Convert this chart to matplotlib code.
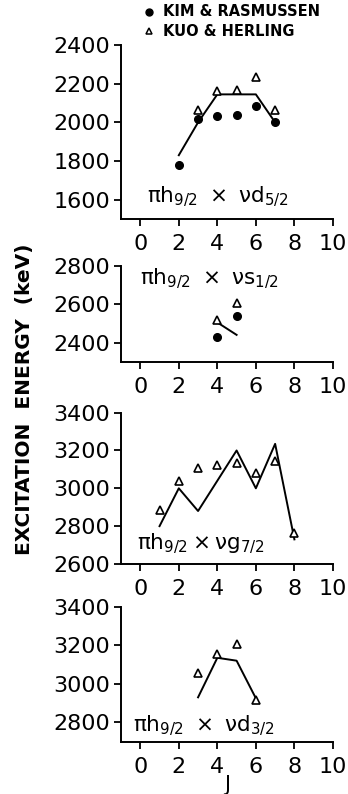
import matplotlib
matplotlib.use("Agg")
import matplotlib.pyplot as plt
from matplotlib.lines import Line2D

plt.rcParams['font.family'] = ['DejaVu Sans']
plt.rcParams['mathtext.fontset'] = 'dejavusans'

# Panel 1: pi h9/2 x nu d5/2
d52_kim_J = [2, 3, 4, 5, 6, 7]
d52_kim_E = [1780, 2020, 2035, 2040, 2085, 2000]
d52_kuo_J = [3, 4, 5, 6, 7]
d52_kuo_E = [2065, 2165, 2170, 2235, 2065]
d52_calc_J = [2, 3, 4, 5, 6, 7]
d52_calc_E = [1830, 2000, 2145, 2145, 2145, 2000]

# Panel 2: pi h9/2 x nu s1/2
s12_kim_J = [4, 5]
s12_kim_E = [2430, 2540]
s12_kuo_J = [4, 5]
s12_kuo_E = [2520, 2605]
s12_calc_J = [4, 5]
s12_calc_E = [2505, 2440]

# Panel 3: pi h9/2 x nu g7/2
g72_kuo_J = [1, 2, 3, 4, 5, 6, 7, 8]
g72_kuo_E = [2885, 3040, 3110, 3125, 3135, 3080, 3145, 2765]
g72_calc_J = [1, 2, 3, 4, 5, 6, 7, 8]
g72_calc_E = [2800, 3000, 2880, 3040, 3200, 3000, 3235, 2730]

# Panel 4: pi h9/2 x nu d3/2
d32_kuo_J = [3, 4, 5, 6]
d32_kuo_E = [3055, 3155, 3205, 2915]
d32_calc_J = [3, 4, 5, 6]
d32_calc_E = [2930, 3135, 3120, 2925]

x_ticks = [0, 2, 4, 6, 8, 10]

fig = plt.figure(figsize=(3.48, 7.94), dpi=100)

left, width = 0.3477, 0.609
panels = [
    dict(rect=[left, 0.7242, width, 0.2190], ylim=(1500, 2400), yticks=[1600, 1800, 2000, 2200, 2400],
         kim=(d52_kim_J, d52_kim_E), kuo=(d52_kuo_J, d52_kuo_E), calc=(d52_calc_J, d52_calc_E),
         label=r'$\mathrm{\pi h_{9/2}\ \times\ \nu d_{5/2}}$', lab_xy=(0.125, 0.125)),
    dict(rect=[left, 0.5445, width, 0.1205], ylim=(2300, 2800), yticks=[2400, 2600, 2800],
         kim=(s12_kim_J, s12_kim_E), kuo=(s12_kuo_J, s12_kuo_E), calc=(s12_calc_J, s12_calc_E),
         label=r'$\mathrm{\pi h_{9/2}\ \times\ \nu s_{1/2}}$', lab_xy=(0.09, 0.86)),
    dict(rect=[left, 0.2897, width, 0.1906], ylim=(2600, 3400), yticks=[2600, 2800, 3000, 3200, 3400],
         kim=None, kuo=(g72_kuo_J, g72_kuo_E), calc=(g72_calc_J, g72_calc_E),
         label=r'$\mathrm{\pi h_{9/2} \times \nu g_{7/2}}$', lab_xy=(0.075, 0.135)),
    dict(rect=[left, 0.0659, width, 0.1700], ylim=(2700, 3400), yticks=[2800, 3000, 3200, 3400],
         kim=None, kuo=(d32_kuo_J, d32_kuo_E), calc=(d32_calc_J, d32_calc_E),
         label=r'$\mathrm{\pi h_{9/2}\ \times\ \nu d_{3/2}}$', lab_xy=(0.057, 0.12)),
]

for p in panels:
    ax = fig.add_axes(p['rect'])
    ax.set_xlim(-1, 10)
    ax.set_ylim(*p['ylim'])
    ax.plot(*p['calc'], color='black', lw=1.4, zorder=2)
    if p['kim'] is not None:
        ax.plot(*p['kim'], 'o', color='black', ms=5.5, zorder=3)
    ax.plot(*p['kuo'], '^', mfc='white', mec='black', mew=1.2, ms=6, zorder=4)
    ax.set_xticks(x_ticks)
    ax.set_yticks(p['yticks'])
    ax.spines['top'].set_visible(False)
    ax.spines['right'].set_visible(False)
    ax.spines['left'].set_linewidth(1.4)
    ax.spines['bottom'].set_linewidth(1.4)
    ax.spines['left'].set_bounds(p['ylim'][0], p['yticks'][-1])
    ax.tick_params(axis='both', labelsize=16, width=1.3, length=5, pad=3)
    ax.tick_params(axis='x', pad=6)
    ax.text(*p['lab_xy'], p['label'], transform=ax.transAxes, fontsize=15.5,
            ha='left', va='center')

fig.text(227 / 348, 1 - 791 / 794, 'J', fontsize=15, ha='center', va='baseline')

fig.text(0.069, 0.4975, 'EXCITATION  ENERGY  (keV)', rotation=90, fontsize=14.5,
         fontweight='bold', ha='center', va='center')

# legend at top
fig.add_artist(Line2D([149 / 348], [1 - 12 / 794], marker='o', color='black', ms=5,
                      transform=fig.transFigure, linestyle='none'))
fig.text(163 / 348, 1 - 12 / 794, 'KIM & RASMUSSEN', fontsize=10.5, fontweight='bold',
         ha='left', va='center')
fig.add_artist(Line2D([149 / 348], [1 - 31 / 794], marker='^', mfc='white', mec='black',
                      mew=1.1, ms=5, transform=fig.transFigure, linestyle='none'))
fig.text(163 / 348, 1 - 31 / 794, 'KUO & HERLING', fontsize=10.5, fontweight='bold',
         ha='left', va='center')

fig.savefig('out.png', dpi=100)
